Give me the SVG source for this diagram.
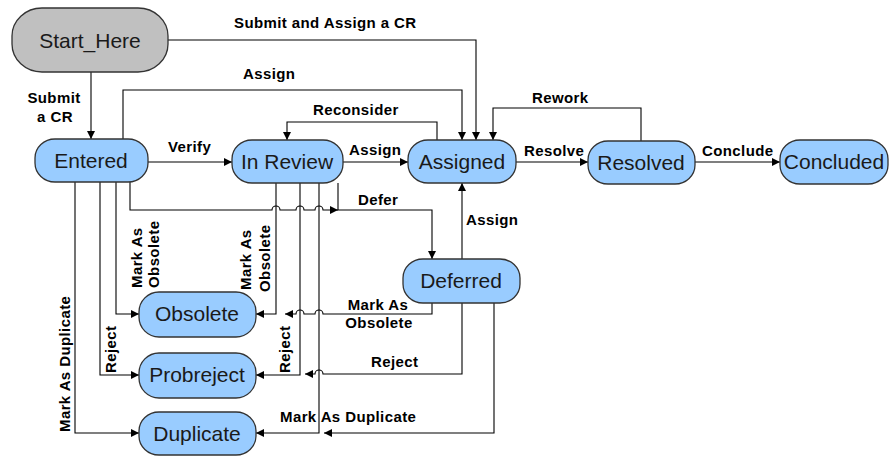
<svg xmlns="http://www.w3.org/2000/svg" width="890" height="456" viewBox="0 0 890 456">
<style>
.n{fill:#99ccff;stroke:#333;stroke-width:1.3}
.s{fill:#c0c0c0;stroke:#333;stroke-width:1.3}
.t{font-family:"Liberation Sans",Arial,sans-serif;font-size:21px;fill:#1a1a1a;text-anchor:middle}
.c path{fill:none;stroke:#000;stroke-width:1.1}
.l{font-family:"Liberation Sans",Arial,sans-serif;font-size:15px;font-weight:bold;fill:#000;letter-spacing:0.4px}
.m{text-anchor:middle}
</style>
<defs>
<marker id="a" viewBox="0 0 10 10" refX="10" refY="5" markerWidth="9" markerHeight="8" orient="auto" markerUnits="userSpaceOnUse"><path d="M0,0L10,5L0,10z" fill="#000"/></marker>
</defs>
<rect width="890" height="456" fill="#fff"/>
<g class="c" id="connectors">
<path d="M91,72V139" marker-end="url(#a)"/>
<path d="M168,40H476V140" marker-end="url(#a)"/>
<path d="M123,139V90H462V140" marker-end="url(#a)"/>
<path d="M148,162H232" marker-end="url(#a)"/>
<path d="M343,162H408" marker-end="url(#a)"/>
<path d="M437,140V122H287V140" marker-end="url(#a)"/>
<path d="M516,162H588" marker-end="url(#a)"/>
<path d="M641,141V108H493V140" marker-end="url(#a)"/>
<path d="M695,162H780" marker-end="url(#a)"/>
<path d="M462,259V183" marker-end="url(#a)"/>
<path d="M338,183V210H432V259" marker-end="url(#a)"/>
<path d="M130,182V210H272a4,4 0 0 1 8,0H296a4,4 0 0 1 8,0H315a4,4 0 0 1 8,0H338" marker-end="url(#a)"/>
<path d="M116,182V314H139" marker-end="url(#a)"/>
<path d="M100,182V375H139" marker-end="url(#a)"/>
<path d="M75,182V433H139" marker-end="url(#a)"/>
<path d="M276,183V314H256" marker-end="url(#a)"/>
<path d="M300,183V375H256" marker-end="url(#a)"/>
<path d="M319,183V433H256" marker-end="url(#a)"/>
<path d="M432,303V314H323a4,4 0 0 0 -8,0H304a4,4 0 0 0 -8,0H285" marker-end="url(#a)"/>
<path d="M462,303V374H323a4,4 0 0 0 -8,0H305" marker-end="url(#a)"/>
<path d="M494,303V433H324" marker-end="url(#a)"/>
</g>
<g id="labels">
<text class="l" x="234" y="28">Submit and Assign a CR</text>
<text class="l" x="243" y="79">Assign</text>
<text class="l m" x="54" y="103">Submit</text>
<text class="l m" x="55" y="122">a CR</text>
<text class="l" x="313" y="115">Reconsider</text>
<text class="l" x="532" y="103">Rework</text>
<text class="l" x="168" y="152">Verify</text>
<text class="l" x="349" y="155">Assign</text>
<text class="l" x="524" y="156">Resolve</text>
<text class="l" x="702" y="156">Conclude</text>
<text class="l" x="358" y="205">Defer</text>
<text class="l" x="466" y="225">Assign</text>
<text class="l m" x="378" y="310">Mark As</text>
<text class="l m" x="379" y="328">Obsolete</text>
<text class="l" x="371" y="367">Reject</text>
<text class="l" x="280" y="422">Mark As Duplicate</text>
<text class="l" transform="translate(70,432) rotate(-90)">Mark As Duplicate</text>
<text class="l" transform="translate(142,288) rotate(-90)">Mark As</text>
<text class="l" transform="translate(159,288) rotate(-90)">Obsolete</text>
<text class="l" transform="translate(251,290) rotate(-90)">Mark As</text>
<text class="l" transform="translate(270,292) rotate(-90)">Obsolete</text>
<text class="l" transform="translate(116,373) rotate(-90)">Reject</text>
<text class="l" transform="translate(290,373) rotate(-90)">Reject</text>
</g>
<g id="start_here"><rect class="s" x="12" y="8" width="156" height="64" rx="30" ry="28"/><text class="t" x="90" y="48">Start_Here</text></g>
<g id="entered"><rect class="n" x="35" y="139" width="113" height="43" rx="20" ry="19"/><text class="t" x="91" y="168">Entered</text></g>
<g id="in_review"><rect class="n" x="232" y="140" width="111" height="43" rx="20" ry="19"/><text class="t" x="287" y="169">In Review</text></g>
<g id="assigned"><rect class="n" x="408" y="140" width="108" height="43" rx="20" ry="19"/><text class="t" x="462" y="169">Assigned</text></g>
<g id="resolved"><rect class="n" x="588" y="141" width="107" height="43" rx="20" ry="19"/><text class="t" x="641" y="170">Resolved</text></g>
<g id="concluded"><rect class="n" x="780" y="140" width="108" height="44" rx="20" ry="19"/><text class="t" x="834" y="169">Concluded</text></g>
<g id="deferred"><rect class="n" x="403" y="259" width="117" height="44" rx="20" ry="19"/><text class="t" x="461" y="288">Deferred</text></g>
<g id="obsolete"><rect class="n" x="139" y="292" width="117" height="45" rx="20" ry="20"/><text class="t" x="197" y="321">Obsolete</text></g>
<g id="probreject"><rect class="n" x="139" y="353" width="117" height="45" rx="20" ry="20"/><text class="t" x="197" y="382">Probreject</text></g>
<g id="duplicate"><rect class="n" x="139" y="412" width="117" height="43" rx="20" ry="19"/><text class="t" x="197" y="441">Duplicate</text></g>
</svg>
